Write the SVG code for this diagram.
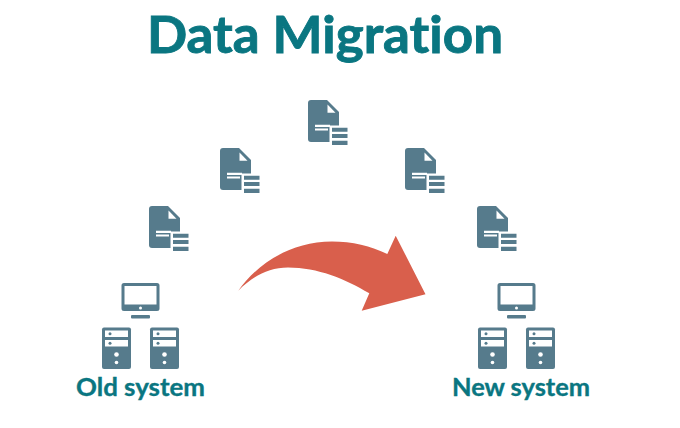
<svg xmlns="http://www.w3.org/2000/svg" width="680" height="428" viewBox="0 0 680 428">
<style>
.ink{fill:#567b8c}
.ttl{font-family:Lato,"Liberation Sans",sans-serif;font-weight:700;fill:#0a7681;stroke:#0a7681;font-variant-ligatures:none}
.big{font-size:52px;stroke-width:.9px}
.lbl{font-size:24px;stroke-width:.35px}
</style>
<defs>
<g id="doc">
<path class="ink" d="M3 0H19L31 12V42H3Q0 42 0 39V3Q0 0 3 0Z"/>
<path fill="#fff" d="M19.500 4.500L27.500 12.700H19.500Z"/>
<path fill="#fff" d="M7 24.700H22V26.900H7ZM7 28.400H20V30.600H7Z"/>
<rect x="21.500" y="25.500" width="20" height="22" fill="#fff"/>
<path class="ink" d="M24 27.700H39.500V31.700H24ZM24 34H39.500V38H24ZM24 40.700H39.500V45H24Z"/>
</g>
<g id="sys">
<path class="ink" fill-rule="evenodd" d="M124 283H157Q159.500 283 159.500 285.500V308.500Q159.500 311 157 311H124Q121.500 311 121.500 308.500V285.500Q121.500 283 124 283ZM124.500 286V304.500H156.500V286Z"/>
<circle cx="140.500" cy="308" r="1.500" fill="#fff"/>
<rect class="ink" x="131" y="315" width="19" height="3.500" rx="1"/>
<g id="tower">
<path class="ink" d="M104 327.500H129Q131 327.500 131 329.500V367Q131 369 129 369H104Q102 369 102 367V329.500Q102 327.500 104 327.500Z"/>
<path fill="#fff" d="M105 330.500H128V337H105ZM105 340H128V346.500H105Z"/>
<circle class="ink" cx="110" cy="333.700" r="1.500"/>
<circle class="ink" cx="110" cy="343.200" r="1.500"/>
<circle cx="116.500" cy="354.500" r="2.300" fill="#fff"/>
<circle cx="116.500" cy="362.500" r="1.800" fill="#fff"/>
</g>
<use href="#tower" x="48"/>
</g>
</defs>
<rect width="680" height="428" fill="#fff"/>
<text id="title" class="ttl big" x="147" y="53" textLength="356" lengthAdjust="spacingAndGlyphs">Data Migration</text>
<g id="doc-top"><use href="#doc" x="308" y="100"/></g>
<g id="doc-left-upper"><use href="#doc" x="220" y="148"/></g>
<g id="doc-left-lower"><use href="#doc" x="149" y="206"/></g>
<g id="doc-right-upper"><use href="#doc" x="405" y="148"/></g>
<g id="doc-right-lower"><use href="#doc" x="477" y="206"/></g>
<g id="old-system"><use href="#sys"/>
<text class="ttl lbl" x="76" y="396" textLength="129" lengthAdjust="spacingAndGlyphs">Old system</text></g>
<g id="new-system"><use href="#sys" x="376"/>
<text class="ttl lbl" x="452" y="396" textLength="138" lengthAdjust="spacingAndGlyphs">New system</text></g>
<g id="connectors">
<path fill="#d95f4c" d="M238.300 290.700C256 265 290 241.500 332 241.500C352 241.500 371 246 387.300 254L395.700 235.700L425.500 294.300L361.700 310.700L369.300 293.300C345 279 318 267.500 288 267.500C268 267.500 252 277 238.300 290.700Z"/>
</g>
</svg>
